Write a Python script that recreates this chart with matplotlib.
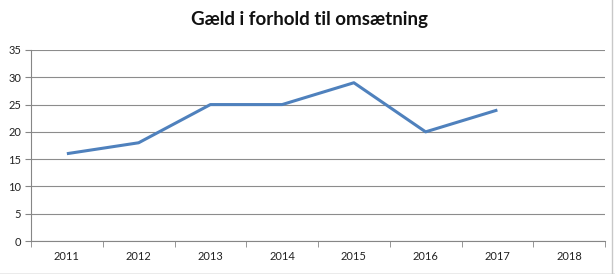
import matplotlib

matplotlib.use("Agg")
import matplotlib.pyplot as plt
import numpy as np

years = ["2011", "2012", "2013", "2014", "2015", "2016", "2017", "2018"]
values = [16, 18, 25, 25, 29, 20, 24]
title = "Gæld i forhold til omsætning"

plt.rcParams["font.family"] = ["Lato", "DejaVu Sans"]

fig = plt.figure(figsize=(6.15, 2.74), dpi=100)
ax = fig.add_axes([31 / 615, 1 - 241 / 274, (605 - 31) / 615, (241 - 50) / 274])

x = np.arange(len(values))
ax.plot(x, values, color="#4f81bd", linewidth=2.2, solid_capstyle="butt")

ax.set_xlim(-0.5, len(years) - 0.5)
ax.set_ylim(0, 35)
ax.set_yticks(range(0, 36, 5))
ax.set_xticks(range(len(years)))
ax.set_xticklabels(years)
ax.set_xticks(np.arange(-0.5, len(years)), minor=True)
ax.tick_params(axis="x", which="major", length=0, pad=7, labelsize=8, colors="#222222")
ax.tick_params(axis="x", which="minor", length=4, color="#868686", direction="out")
ax.tick_params(axis="y", length=4, color="#868686", pad=3, labelsize=8, labelcolor="#222222")
ax.grid(axis="y", color="#8c8c8c", linewidth=0.8)
ax.set_axisbelow(True)
for side in ("top", "right"):
    ax.spines[side].set_visible(False)
for side in ("left", "bottom"):
    ax.spines[side].set_color("#868686")
    ax.spines[side].set_linewidth(0.8)

fig.text(0.503, 1 - 20 / 274, title, ha="center", va="center",
         fontsize=13.5, fontweight="bold", color="#111111")

# chart frame edges visible at bottom and right
fig.add_artist(plt.Line2D([0, 1], [0.5 / 274, 0.5 / 274], color="#9a9a9a", linewidth=1.0))
fig.add_artist(plt.Line2D([612 / 615, 612 / 615], [0, 1], color="#c8c8c8", linewidth=1.0))

fig.savefig("out.png", dpi=100)
